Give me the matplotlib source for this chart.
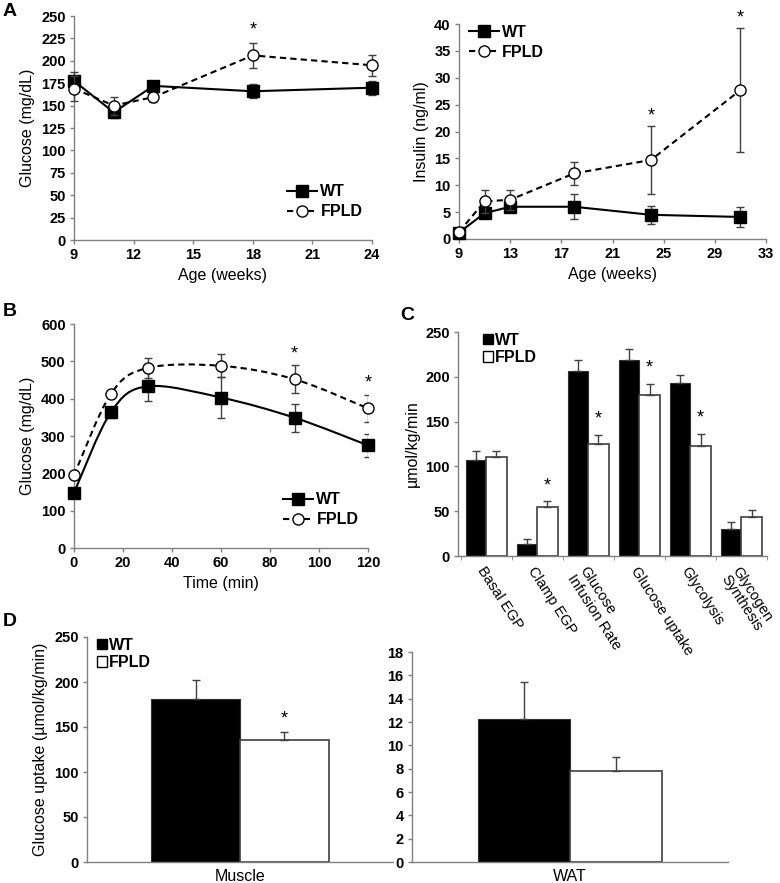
import matplotlib
matplotlib.use("Agg")
import matplotlib.pyplot as plt
import numpy as np
from matplotlib.path import Path
from matplotlib.patches import PathPatch, Patch
from matplotlib.lines import Line2D

plt.rcParams['font.family'] = ['Liberation Sans', 'DejaVu Sans']

# panel A - glucose
age_glu = [9, 11, 13, 18, 24]
glu_wt = [177.5, 142.5, 172, 166, 170]
glu_wt_err = [10, 6, 5, 8, 8]
glu_fpld = [169, 150, 159.5, 206, 195]
glu_fpld_err = [14, 10, 5, 14, 12]

# panel A - insulin
age_ins = [9, 11, 13, 18, 24, 31]
ins_wt = [1.2, 4.8, 6.0, 6.0, 4.5, 4.1]
ins_wt_err = [0.4, 0.8, 0.8, 2.3, 1.7, 1.9]
ins_fpld = [1.3, 7.0, 7.3, 12.2, 14.7, 27.7]
ins_fpld_err = [0.4, 2.1, 1.9, 2.1, 6.3, 11.6]

# panel B - GTT
gtt_time = [0, 15, 30, 60, 90, 120]
gtt_wt = [148, 363, 433, 403, 349, 275]
gtt_wt_err = [10, 15, 38, 55, 38, 30]
gtt_fpld = [195, 412, 482, 488, 452, 374]
gtt_fpld_err = [10, 10, 27, 31, 38, 37]

# panel C - clamp
clamp_cats = ['Basal EGP', 'Clamp EGP', 'Glucose\nInfusion Rate',
              'Glucose uptake', 'Glycolysis', 'Glycogen\nSynthesis']
clamp_wt = [107, 13, 206, 219, 193, 30]
clamp_wt_err = [10, 6, 13, 12, 9, 8]
clamp_fpld = [111, 55, 125, 180, 123, 44]
clamp_fpld_err = [6, 6, 10, 12, 13, 7]
clamp_sig = [False, True, True, True, True, False]

# panel D - tissue uptake
muscle_wt, muscle_wt_err = 181.5, 21
muscle_fpld, muscle_fpld_err = 135.5, 8.5
wat_wt, wat_wt_err = 12.25, 3.2
wat_fpld, wat_fpld_err = 7.8, 1.2

W, H = 780, 883
GRAY = '#808080'
ERR = '#404040'
LABFONT = 11.5

fig = plt.figure(figsize=(W / 100, H / 100), dpi=100)


def axes_px(x0, y0, x1, y1):
    a = fig.add_axes([x0 / W, 1 - y1 / H, (x1 - x0) / W, (y1 - y0) / H])
    a.patch.set_alpha(0)
    return a


def style(ax):
    for s in ['top', 'right']:
        ax.spines[s].set_visible(False)
    for s in ['left', 'bottom']:
        ax.spines[s].set_color(GRAY)
        ax.spines[s].set_linewidth(1.0)
    ax.tick_params(direction='out', length=3, color=GRAY, width=1, pad=3)
    for lab in ax.get_xticklabels() + ax.get_yticklabels():
        lab.set_fontsize(10.5)
        lab.set_fontweight('bold')


def wt_kw():
    return dict(color='black', marker='s', markersize=9, linewidth=1.5,
                markerfacecolor='black', markeredgecolor='black')


def fpld_kw():
    return dict(color='black', marker='o', markersize=8, linewidth=1.5,
                linestyle=(0, (3, 2)), markerfacecolor='white', markeredgecolor='black',
                markeredgewidth=1.0)


def line_legend(ax, loc, anchor=None):
    h = [Line2D([], [], **wt_kw()), Line2D([], [], **fpld_kw())]
    ax.legend(h, ['WT', 'FPLD'], loc=loc, bbox_to_anchor=anchor, frameon=False,
              handlelength=1.9, handletextpad=0.2, labelspacing=0.3,
              prop=dict(size=11.5, weight='bold'), borderaxespad=0.2)


def bar_legend(ax, anchor):
    ax.legend([Patch(facecolor='black', edgecolor='black'),
               Patch(facecolor='white', edgecolor='black')], ['WT', 'FPLD'],
              loc='upper left', bbox_to_anchor=anchor, frameon=False,
              handlelength=0.65, handleheight=0.65, handletextpad=0.1,
              labelspacing=0.15, prop=dict(size=11.5, weight='bold'),
              borderaxespad=0.2)


def smooth_path(x, y):
    # Catmull-Rom style bezier through the data points (like Excel smoothed lines)
    pts = np.column_stack([x, y]).astype(float)
    n = len(pts)
    verts = [pts[0]]
    codes = [Path.MOVETO]
    for i in range(n - 1):
        p0 = pts[i - 1] if i > 0 else pts[i]
        p1 = pts[i]
        p2 = pts[i + 1]
        p3 = pts[i + 2] if i + 2 < n else pts[i + 1]
        c1 = p1 + (p2 - p0) / 6.0
        c2 = p2 - (p3 - p1) / 6.0
        verts += [c1, c2, p2]
        codes += [Path.CURVE4] * 3
    return Path(verts, codes)


# ---------------- A left ----------------
ax = axes_px(74, 16, 372, 240)
ax.errorbar(age_glu, glu_wt, yerr=glu_wt_err, ecolor=ERR, elinewidth=1, capsize=3,
            zorder=3, clip_on=False, **wt_kw())
ax.errorbar(age_glu, glu_fpld, yerr=glu_fpld_err, ecolor=ERR, elinewidth=1, capsize=3,
            zorder=4, clip_on=False, **fpld_kw())
ax.set_xlim(9, 24)
ax.set_ylim(0, 250)
ax.set_xticks(range(9, 25, 3))
ax.set_yticks(range(0, 251, 25))
ax.set_xlabel('Age (weeks)', fontsize=LABFONT)
ax.set_ylabel('Glucose (mg/dL)', fontsize=LABFONT)
ax.text(age_glu[3], glu_fpld[3] + glu_fpld_err[3] + 5, '*', ha='center', va='bottom',
        fontsize=13)
line_legend(ax, 'lower right', (1.0, 0.05))
style(ax)
fig.text(3 / W, 1 - 12 / H, 'A', fontsize=14, fontweight='bold', va='center')

# ---------------- A right ----------------
ax = axes_px(459, 24, 766, 239)
ax.errorbar(age_ins, ins_wt, yerr=ins_wt_err, ecolor=ERR, elinewidth=1, capsize=3,
            zorder=3, clip_on=False, **wt_kw())
ax.errorbar(age_ins, ins_fpld, yerr=ins_fpld_err, ecolor=ERR, elinewidth=1, capsize=3,
            zorder=4, clip_on=False, **fpld_kw())
ax.set_xlim(9, 33)
ax.set_ylim(0, 40)
ax.set_xticks(range(9, 34, 4))
ax.set_yticks(range(0, 41, 5))
ax.set_xlabel('Age (weeks)', fontsize=LABFONT)
ax.set_ylabel('Insulin (ng/ml)', fontsize=LABFONT)
for i in [4, 5]:
    ax.text(age_ins[i], ins_fpld[i] + ins_fpld_err[i] + 0.3, '*', ha='center',
            va='bottom', fontsize=13, clip_on=False)
line_legend(ax, 'upper left', (0.0, 1.04))
style(ax)

# ---------------- B ----------------
ax = axes_px(74, 324, 368, 548)
ax.add_patch(PathPatch(smooth_path(gtt_time, gtt_wt), fill=False, edgecolor='black',
                       linewidth=1.5, zorder=3))
ax.add_patch(PathPatch(smooth_path(gtt_time, gtt_fpld), fill=False, edgecolor='black',
                       linewidth=1.5, linestyle=(0, (3, 2)), zorder=3))
ax.errorbar(gtt_time, gtt_wt, yerr=gtt_wt_err, fmt='none', ecolor=ERR, elinewidth=1,
            capsize=3, zorder=2)
ax.errorbar(gtt_time, gtt_fpld, yerr=gtt_fpld_err, fmt='none', ecolor=ERR, elinewidth=1,
            capsize=3, zorder=2)
wk = wt_kw()
wk.pop('linewidth')
ax.plot(gtt_time, gtt_wt, linestyle='none', zorder=4, clip_on=False, **wk)
fk = fpld_kw()
fk.pop('linestyle')
fk.pop('linewidth')
ax.plot(gtt_time, gtt_fpld, linestyle='none', zorder=5, clip_on=False, **fk)
ax.set_xlim(0, 120)
ax.set_ylim(0, 600)
ax.set_xticks(range(0, 121, 20))
ax.set_yticks(range(0, 601, 100))
ax.set_xlabel('Time (min)', fontsize=LABFONT)
ax.set_ylabel('Glucose (mg/dL)', fontsize=LABFONT)
for i in [4, 5]:
    ax.text(gtt_time[i], gtt_fpld[i] + gtt_fpld_err[i] + 8, '*', ha='center',
            va='bottom', fontsize=13)
line_legend(ax, 'lower right', (1.0, 0.05))
style(ax)
fig.text(3 / W, 1 - 312 / H, 'B', fontsize=14, fontweight='bold', va='center')

# ---------------- C ----------------
ax = axes_px(458, 332, 767, 556)
x = np.arange(len(clamp_cats))
bw = 0.4
ax.bar(x - bw / 2, clamp_wt, bw, color='black', edgecolor='#303030', linewidth=0.8)
ax.bar(x + bw / 2, clamp_fpld, bw, color='white', edgecolor='#404040', linewidth=1.2)
ax.errorbar(x - bw / 2, clamp_wt, yerr=[np.zeros(len(x)), clamp_wt_err], fmt='none',
            ecolor=ERR, elinewidth=1, capsize=3)
ax.errorbar(x + bw / 2, clamp_fpld, yerr=[np.zeros(len(x)), clamp_fpld_err], fmt='none',
            ecolor=ERR, elinewidth=1, capsize=3)
for i in range(len(x)):
    if clamp_sig[i]:
        ax.text(x[i] + bw / 2, clamp_fpld[i] + clamp_fpld_err[i] + 8, '*', ha='center',
                va='bottom', fontsize=13)
ax.set_xlim(-0.55, len(x) - 0.53)
ax.set_ylim(0, 250)
ax.set_yticks(range(0, 251, 50))
ax.set_xticks(x)
ax.set_xticklabels(clamp_cats, rotation=-57, ha='left', va='top', rotation_mode='anchor',
                   linespacing=1.0)
ax.set_xticks(np.arange(-0.5, len(x), 1), minor=True)
ax.set_ylabel('µmol/kg/min', fontsize=LABFONT)
style(ax)
ax.tick_params(axis='x', which='major', length=0, pad=6)
ax.tick_params(axis='x', which='minor', length=3, color=GRAY, direction='out')
for lab in ax.get_xticklabels():
    lab.set_fontweight('normal')
    lab.set_fontsize(10.5)
bar_legend(ax, (0.05, 1.04))
fig.text(400 / W, 1 - 315 / H, 'C', fontsize=14, fontweight='bold', va='center')

# ---------------- D left ----------------
bwd = 0.29
ax = axes_px(87, 637, 393, 862)
ax.bar([-bwd / 2], [muscle_wt], bwd, color='black', edgecolor='#303030', linewidth=0.8)
ax.bar([bwd / 2], [muscle_fpld], bwd, color='white', edgecolor='#404040', linewidth=1.2)
ax.errorbar([-bwd / 2], [muscle_wt], yerr=[[0], [muscle_wt_err]], fmt='none', ecolor=ERR,
            elinewidth=1, capsize=3)
ax.errorbar([bwd / 2], [muscle_fpld], yerr=[[0], [muscle_fpld_err]], fmt='none',
            ecolor=ERR, elinewidth=1, capsize=3)
ax.text(bwd / 2, muscle_fpld + muscle_fpld_err + 6, '*', ha='center', va='bottom',
        fontsize=13)
ax.set_xlim(-0.5, 0.5)
ax.set_ylim(0, 250)
ax.set_yticks(range(0, 251, 50))
ax.set_xticks([0])
ax.set_xticklabels(['Muscle'])
ax.set_ylabel('Glucose uptake (µmol/kg/min)', fontsize=LABFONT)
style(ax)
ax.tick_params(axis='x', length=0, pad=5)
for lab in ax.get_xticklabels():
    lab.set_fontweight('normal')
    lab.set_fontsize(11.5)
bar_legend(ax, (0.0, 1.04))
fig.text(3 / W, 1 - 622 / H, 'D', fontsize=14, fontweight='bold', va='center')

# ---------------- D right ----------------
ax = axes_px(412, 652, 728, 862)
ax.bar([-bwd / 2], [wat_wt], bwd, color='black', edgecolor='#303030', linewidth=0.8)
ax.bar([bwd / 2], [wat_fpld], bwd, color='white', edgecolor='#404040', linewidth=1.2)
ax.errorbar([-bwd / 2], [wat_wt], yerr=[[0], [wat_wt_err]], fmt='none', ecolor=ERR,
            elinewidth=1, capsize=3)
ax.errorbar([bwd / 2], [wat_fpld], yerr=[[0], [wat_fpld_err]], fmt='none', ecolor=ERR,
            elinewidth=1, capsize=3)
ax.set_xlim(-0.5, 0.5)
ax.set_ylim(0, 18)
ax.set_yticks(range(0, 19, 2))
ax.set_xticks([0])
ax.set_xticklabels(['WAT'])
style(ax)
ax.tick_params(axis='x', length=0, pad=5)
for lab in ax.get_xticklabels():
    lab.set_fontweight('normal')
    lab.set_fontsize(11.5)

fig.savefig('out.png', dpi=100, facecolor='white')
